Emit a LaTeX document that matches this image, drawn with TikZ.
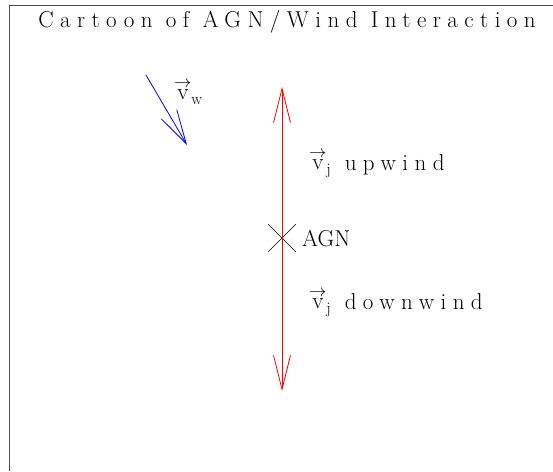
\documentclass[tikz,border=0pt]{standalone}
\usepackage{fontspec}
\usetikzlibrary{arrows.meta,shapes.misc}
\newfontfamily\spacedfont{Latin Modern Roman}[LetterSpace=28]
\newcommand{\vecv}[1]{\stackrel{\rightarrow}{\mathrm{v}}_{\mathrm{#1}}}
\tikzset{
  lbl/.style={inner sep=0pt, font=\fontsize{23}{25}\selectfont\spacedfont},
  agnlbl/.style={inner sep=0pt, font=\fontsize{23}{25}\selectfont},
  jet/.style={red, line width=0.8pt, -{Straight Barb[length=34pt,width=17pt,line width=0.8pt]}},
  wind/.style={blue, line width=0.8pt, -{Straight Barb[length=34pt,width=18pt,line width=0.8pt]}},
  frame/.style={draw=black!70, line width=0.8pt}
}
\begin{document}
\begin{tikzpicture}[x=1pt,y=-1pt]
\useasboundingbox (0,0) rectangle (553,471);
\draw[frame] (9,471) -- (9,5) -- (553,5);
\node[lbl] (title) at (287,22) {Cartoon of AGN/Wind Interaction};
% AGN
\node[cross out, draw=black, line width=0.6pt, minimum size=27pt, inner sep=0pt] (agn) at (282,238) {};
\coordinate (jtop) at (282,87);
\coordinate (jbot) at (282,391);
\draw[jet] (agn.center) -- (jtop);
\draw[jet] (agn.center) -- (jbot);
\node[agnlbl, anchor=west] (agnl) at (302,239) {AGN};
\node[lbl, anchor=west] (up) at (309,164) {$\vecv{j}$ upwind};
\node[lbl, anchor=west] (down) at (309,303) {$\vecv{j}$ downwind};
% wind
\coordinate (w1) at (146,75);
\coordinate (w2) at (187,145);
\draw[wind] (w1) -- (w2);
\node[lbl, anchor=west] (vw) at (174,92) {$\vecv{w}$};
\end{tikzpicture}
\end{document}
